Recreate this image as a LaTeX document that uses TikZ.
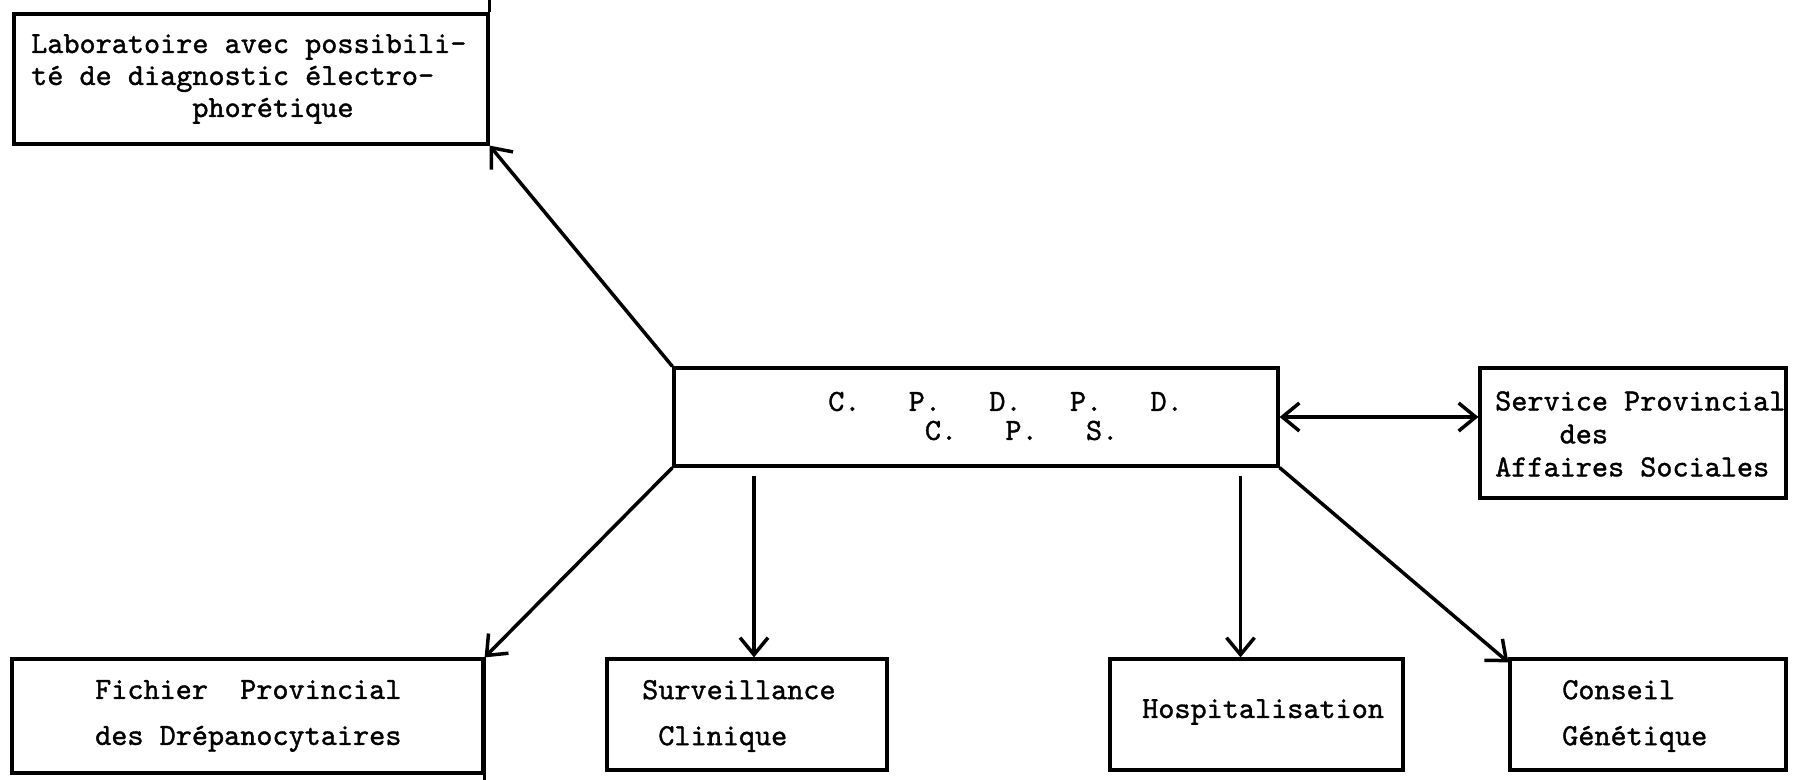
\documentclass[tikz,border=0pt]{standalone}
\usepackage{fontspec}
\usetikzlibrary{arrows.meta}
% typewriter face, slightly emboldened like a ribbon print
\newfontfamily\typew{lmmono10-regular}[Extension=.otf, FakeBold=1.2]
\begin{document}
\begin{tikzpicture}[x=1pt,y=-1pt,
  box/.style={draw, line width=3.2pt, rectangle, inner sep=0pt},
  txt/.style={font=\typew\fontsize{30.7}{32}\selectfont, inner sep=0pt, anchor=west, align=left},
  wide/.style={font=\typew\fontsize{30.7}{46}\selectfont},
  link/.style={line width=3.5pt, >={Straight Barb[length=17pt,width=28pt]}}
]
\useasboundingbox (0,0) rectangle (1803,779);

% boxes
\node[box, minimum width=474pt, minimum height=130pt] (lab) at (251,79) {};
\node[box, minimum width=604pt, minimum height=98pt]  (cpd) at (976,417) {};
\node[box, minimum width=306pt, minimum height=130pt] (sps) at (1633,433) {};
\node[box, minimum width=471pt, minimum height=114pt] (fic) at (247.5,716) {};
\node[box, minimum width=280pt, minimum height=111pt] (sur) at (747,714.5) {};
\node[box, minimum width=293pt, minimum height=111pt] (hos) at (1256.5,714.5) {};
\node[box, minimum width=276pt, minimum height=111pt] (con) at (1648,714.5) {};

% overshooting box sides
\draw[line width=3.2pt] (lab.north east) -- ([yshift=14pt]lab.north east);
\draw[line width=3.2pt] (fic.north east) -- ([yshift=-6pt]fic.south east);

% texts
\node[txt] (labt) at (31,79) {Laboratoire avec possibili-\\té de diagnostic électro-\\\phantom{xxxxxxxxxx}phorétique};
\node[txt, font=\typew\fontsize{30.7}{29}\selectfont] (cpdt) at (828,416)
  {C.~~~P.~~~D.~~~P.~~~D.\\\phantom{xxxxxx}C.~~~P.~~~S.};
\node[txt, font=\typew\fontsize{30.7}{33}\selectfont] (spst) at (1495,434)
  {Service Provincial\\\phantom{xxxx}des\\Affaires Sociales};
\node[txt, wide] (fict) at (95,716) {Fichier~~Provincial\\des Drépanocytaires};
\node[txt, wide] (surt) at (642,716) {Surveillance\\\phantom{x}Clinique};
\node[txt] (host) at (1142,712) {Hospitalisation};
\node[txt, wide] (cont) at (1562,716) {Conseil\\Génétique};

% connectors
\draw[link,->] (cpd.north west) -- (lab.south east);
\draw[link,->] (cpd.south west) -- (fic.north east);
\draw[link,->,shorten <=8pt] ([xshift=7pt]sur.north |- cpd.south) -- ([xshift=7pt]sur.north);
\draw[link,->,shorten <=8pt] ([xshift=-16pt]hos.north |- cpd.south) -- ([xshift=-16pt]hos.north);
\draw[link,->] (cpd.south east) -- ([yshift=-5pt]con.north west);
\draw[link,<->] (cpd.east) -- (sps.west |- cpd.east);
\end{tikzpicture}
\end{document}
